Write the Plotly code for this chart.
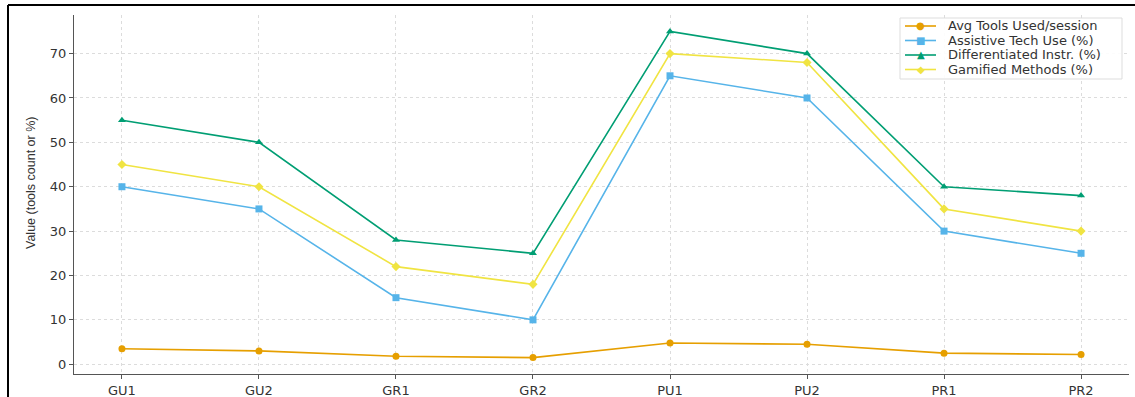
import plotly.graph_objects as go

# Data
groups = ["GU1", "GU2", "GR1", "GR2", "PU1", "PU2", "PR1", "PR2"]
avg_tools = [3.5, 3.0, 1.8, 1.5, 4.8, 4.5, 2.5, 2.2]
assistive_tech = [40, 35, 15, 10, 65, 60, 30, 25]
differentiated = [55, 50, 28, 25, 75, 70, 40, 38]
gamified = [45, 40, 22, 18, 70, 68, 35, 30]

W, H = 1135, 397
L, R, T, B = 74, 6, 15, 23

series = [
    ("Avg Tools Used/session", avg_tools, "#E69F00", "circle", "●"),
    ("Assistive Tech Use (%)", assistive_tech, "#56B4E9", "square", "■"),
    ("Differentiated Instr. (%)", differentiated, "#009E73", "triangle-up", "▲"),
    ("Gamified Methods (%)", gamified, "#F0E442", "diamond", "◆"),
]

fig = go.Figure()
for name, vals, color, sym, _ in series:
    fig.add_trace(go.Scatter(
        x=groups, y=vals, name=name, mode="lines+markers",
        line=dict(color=color, width=1.6),
        marker=dict(color=color, symbol=sym, size=7),
        showlegend=False,
    ))

# helpers to place pixel positions in paper coordinates
pw, ph = W - L - R, H - T - B
def px_x(x):
    return (x - L) / pw
def px_y(y):
    return (H - B - y) / ph

# outer frame (left and top edges)
frame = dict(color="black", width=2)
fig.add_shape(type="line", xref="paper", yref="paper",
              x0=px_x(8), x1=px_x(8), y0=px_y(5), y1=px_y(H + 2), line=frame)
fig.add_shape(type="line", xref="paper", yref="paper",
              x0=px_x(8), x1=px_x(W + 2), y0=px_y(5), y1=px_y(5), line=frame)

# compact legend box in the upper right
legend_font = dict(family="DejaVu Sans", size=13, color="#333")
fig.add_shape(type="rect", xref="paper", yref="paper",
              x0=px_x(900), x1=px_x(1122), y0=px_y(18), y1=px_y(79),
              line=dict(color="#dddddd", width=1), fillcolor="rgba(255,255,255,0.9)", layer="above")
row_y = [26, 40.5, 55, 69.5]
for (name, _, color, _, glyph), ry in zip(series, row_y):
    fig.add_shape(type="line", xref="paper", yref="paper",
                  x0=px_x(905), x1=px_x(936), y0=px_y(ry), y1=px_y(ry),
                  line=dict(color=color, width=1.6), layer="above")
    fig.add_annotation(xref="paper", yref="paper", x=px_x(920.5), y=px_y(ry),
                       text=glyph, showarrow=False, xanchor="center", yanchor="middle",
                       font=dict(family="DejaVu Sans", size=10, color=color))
    fig.add_annotation(xref="paper", yref="paper", x=px_x(946), y=px_y(ry),
                       text=name, showarrow=False, xanchor="left", yanchor="middle",
                       font=legend_font)

# y-axis label
fig.add_annotation(xref="paper", yref="paper", x=px_x(31), y=px_y(183),
                   text="Value (tools count or %)", textangle=-90, showarrow=False,
                   xanchor="center", yanchor="middle",
                   font=dict(family="Liberation Sans Narrow, Liberation Sans",
                             size=12.5, color="#333"))

axis_common = dict(
    showline=True, linecolor="#555", linewidth=1,
    ticks="outside", ticklen=4, tickcolor="#555",
    showgrid=True, gridcolor="#dcdcdc", griddash="dot", gridwidth=1,
    zeroline=False, mirror=False, automargin=False,
    tickfont=dict(family="DejaVu Sans", size=13, color="#333"),
)

fig.update_layout(
    width=W, height=H,
    margin=dict(l=L, r=R, t=T, b=B),
    paper_bgcolor="white", plot_bgcolor="white",
    xaxis=dict(range=[-0.35, 7.35], **axis_common),
    yaxis=dict(range=[-2.2, 78.7], tickvals=[0, 10, 20, 30, 40, 50, 60, 70],
               **axis_common),
    showlegend=False,
)

fig.write_html("out.html")
